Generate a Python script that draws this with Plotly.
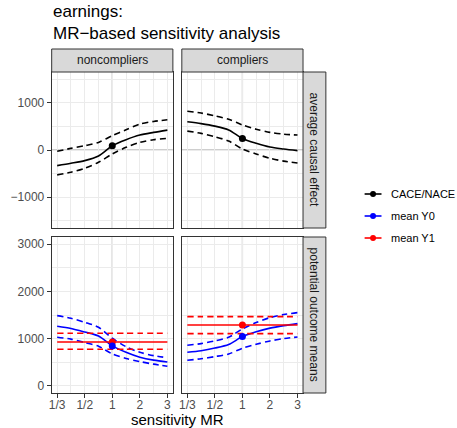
import plotly.graph_objects as go

W, H = 457, 428

# ---------------- data ----------------
mr = [1/3, 0.4, 1/2, 2/3, 1, 1.5, 2, 2.5, 3]
mr_ticks = [1/3, 1/2, 1, 2, 3]
mr_ticktext = ["1/3", "1/2", "1", "2", "3"]
mr_minor = [0.4, 2/3, 1.5, 2.5]

# average causal effect (top row)
nonc_cace = [-330, -281, -225, -126, 91, 218, 316, 372, 421]
nonc_cace_lo = [-526, -470, -386, -260, -84, 56, 161, 218, 246]
nonc_cace_hi = [-28, 35, 91, 161, 302, 428, 547, 604, 639]
comp_cace = [597, 558, 505, 425, 245, 142, 62, 20, -14]
comp_cace_lo = [400, 352, 281, 190, 21, -85, -175, -235, -274]
comp_cace_hi = [821, 782, 723, 650, 530, 440, 372, 335, 316]

# potential outcome means (bottom row)
nonc_y0 = [1262, 1215, 1140, 1056, 846, 712, 607, 545, 507]
nonc_y0_lo = [1029, 990, 916, 840, 677, 580, 515, 460, 416]
nonc_y0_hi = [1487, 1430, 1346, 1240, 1008, 830, 712, 640, 598]
nonc_y1 = [930, 930, 930, 930, 930, 930, 930, 930, 930]
nonc_y1_lo = [775, 775, 775, 775, 775, 775, 775, 775, 775]
nonc_y1_hi = [1113, 1113, 1113, 1113, 1113, 1113, 1113, 1113, 1113]

comp_y0 = [712, 745, 800, 875, 1043, 1145, 1222, 1275, 1317]
comp_y0_lo = [543, 575, 620, 675, 796, 880, 951, 1000, 1036]
comp_y0_hi = [860, 895, 951, 1030, 1205, 1340, 1445, 1510, 1550]
comp_y1 = [1290, 1290, 1290, 1290, 1290, 1290, 1290, 1290, 1290]
comp_y1_lo = [1106, 1106, 1106, 1106, 1106, 1106, 1106, 1106, 1106]
comp_y1_hi = [1466, 1466, 1466, 1466, 1466, 1466, 1466, 1466, 1466]

# estimates at MR = 1
pt_mr = [1]
nonc_cace_pt = [91]
comp_cace_pt = [245]
nonc_y0_pt = [846]
nonc_y1_pt = [930]
comp_y0_pt = [1043]
comp_y1_pt = [1290]

col_labels = ["noncompliers", "compliers"]
row_labels = ["average causal effect", "potential outcome means"]
legend_labels = ["CACE/NACE", "mean Y0", "mean Y1"]
legend_colors = ["#000000", "#0000FF", "#FF0000"]


# MR axis scale: symmetric ratio scale (1/3, 1/2, 1, 2, 3 equally spaced)
def mr_scale(v):
    return v - 1 if v >= 1 else 1 - 1 / v


def tx(vals):
    return [mr_scale(v) for v in vals]


# ---------------- layout geometry (pixels) ----------------
FONT = "Liberation Sans, Arial, Helvetica, sans-serif"
col_px = [(49, 171), (180, 302)]
row_px = [(72, 228), (237, 393)]
strip_top = (49, 72)
strip_right = (302, 325)


def px_x(p):
    return p / W


def px_y(p):
    return 1 - p / H


fig = go.Figure()

LW = 1.6
DASH = "6px,4px"


def add_line(xa, ya, y, color, dash=None):
    fig.add_trace(go.Scatter(x=tx(mr), y=y, mode="lines", xaxis=xa, yaxis=ya,
                             line=dict(color=color, width=LW, dash=dash, shape="spline", smoothing=0.8),
                             showlegend=False, hoverinfo="skip"))


def add_pt(xa, ya, y, color):
    fig.add_trace(go.Scatter(x=tx(pt_mr), y=y, mode="markers", xaxis=xa, yaxis=ya,
                             marker=dict(color=color, size=7),
                             showlegend=False, hoverinfo="skip"))


# top-left: noncompliers CACE
add_line("x", "y", nonc_cace_lo, "#000000", DASH)
add_line("x", "y", nonc_cace_hi, "#000000", DASH)
add_line("x", "y", nonc_cace, "#000000")
add_pt("x", "y", nonc_cace_pt, "#000000")
# top-right: compliers CACE
add_line("x2", "y2", comp_cace_lo, "#000000", DASH)
add_line("x2", "y2", comp_cace_hi, "#000000", DASH)
add_line("x2", "y2", comp_cace, "#000000")
add_pt("x2", "y2", comp_cace_pt, "#000000")
# bottom-left: noncompliers means
add_line("x3", "y3", nonc_y0_lo, "#0000FF", DASH)
add_line("x3", "y3", nonc_y0_hi, "#0000FF", DASH)
add_line("x3", "y3", nonc_y0, "#0000FF")
add_line("x3", "y3", nonc_y1_lo, "#FF0000", DASH)
add_line("x3", "y3", nonc_y1_hi, "#FF0000", DASH)
add_line("x3", "y3", nonc_y1, "#FF0000")
add_pt("x3", "y3", nonc_y1_pt, "#FF0000")
add_pt("x3", "y3", nonc_y0_pt, "#0000FF")
# bottom-right: compliers means
add_line("x4", "y4", comp_y0_lo, "#0000FF", DASH)
add_line("x4", "y4", comp_y0_hi, "#0000FF", DASH)
add_line("x4", "y4", comp_y0, "#0000FF")
add_line("x4", "y4", comp_y1_lo, "#FF0000", DASH)
add_line("x4", "y4", comp_y1_hi, "#FF0000", DASH)
add_line("x4", "y4", comp_y1, "#FF0000")
add_pt("x4", "y4", comp_y1_pt, "#FF0000")
add_pt("x4", "y4", comp_y0_pt, "#0000FF")

# ---------------- axes ----------------
t_ticks = tx(mr_ticks)
t_lo, t_hi = min(t_ticks), max(t_ticks)
pad = 0.05 * (t_hi - t_lo)
xr = [t_lo - pad, t_hi + pad]

GRID = "#EBEBEB"
BORDER = "#333333"
TICKFONT = dict(family=FONT, size=12, color="#4D4D4D")

layout_axes = {}
axes_names = [("xaxis", "yaxis", 0, 0), ("xaxis2", "yaxis2", 0, 1),
              ("xaxis3", "yaxis3", 1, 0), ("xaxis4", "yaxis4", 1, 1)]
y_ranges = [[-1650, 1650], [-150, 3150]]
y_ticks = [[-1000, 0, 1000], [0, 1000, 2000, 3000]]
y_minor = [[-1500, -500, 500, 1500], [500, 1500, 2500]]
for xa, ya, r, c in axes_names:
    yref_name = "y" + ("" if xa == "xaxis" else xa[-1])
    xref_name = "x" + ("" if xa == "xaxis" else xa[-1])
    layout_axes[xa] = dict(
        range=xr, domain=[px_x(col_px[c][0]), px_x(col_px[c][1])],
        anchor=yref_name, tickmode="array", tickvals=t_ticks, ticktext=mr_ticktext,
        showticklabels=(r == 1), ticks="outside" if r == 1 else "",
        ticklen=4, tickcolor=BORDER, tickwidth=1, tickfont=TICKFONT,
        ticklabelstandoff=-3,
        showgrid=True, gridcolor=GRID, gridwidth=1, zeroline=False,
        showline=True, mirror=True, linecolor=BORDER, linewidth=1,
        minor=dict(tickvals=tx(mr_minor), showgrid=True, gridcolor=GRID, gridwidth=0.5, ticks=""),
        fixedrange=True,
    )
    layout_axes[ya] = dict(
        range=y_ranges[r], domain=[px_y(row_px[r][1]), px_y(row_px[r][0])],
        anchor=xref_name, tickmode="array", tickvals=y_ticks[r],
        ticktext=[str(v).replace("-", "\u2212") for v in y_ticks[r]],
        showticklabels=(c == 0), ticks="outside" if c == 0 else "",
        ticklen=4, tickcolor=BORDER, tickwidth=1, tickfont=TICKFONT,
        showgrid=True, gridcolor=GRID, gridwidth=1, zeroline=False,
        showline=True, mirror=True, linecolor=BORDER, linewidth=1,
        minor=dict(tickvals=y_minor[r], showgrid=True, gridcolor=GRID, gridwidth=0.5, ticks=""),
        fixedrange=True,
    )

shapes = []
REF = "#BEBEBE"
# reference lines: MR = 1 in all panels, effect = 0 in top panels
for xa, ya, r, c in axes_names:
    xn = "x" + ("" if xa == "xaxis" else xa[-1])
    yn = "y" + ("" if ya == "yaxis" else ya[-1])
    shapes.append(dict(type="line", xref=xn, yref="paper", x0=mr_scale(1), x1=mr_scale(1),
                       y0=px_y(row_px[r][1]), y1=px_y(row_px[r][0]),
                       line=dict(color=REF, width=1.3), layer="below"))
    if r == 0:
        shapes.append(dict(type="line", xref="paper", yref=yn, x0=px_x(col_px[c][0]), x1=px_x(col_px[c][1]),
                           y0=0, y1=0, line=dict(color=REF, width=1.3), layer="below"))

annotations = []
STRIP_FILL = "#D9D9D9"
STRIPFONT = dict(family=FONT, size=12, color="#1A1A1A")
# top strips
for c in range(2):
    shapes.append(dict(type="rect", xref="paper", yref="paper",
                       x0=px_x(col_px[c][0]), x1=px_x(col_px[c][1]),
                       y0=px_y(strip_top[1]), y1=px_y(strip_top[0]),
                       fillcolor=STRIP_FILL, line=dict(color=BORDER, width=1), layer="above"))
    annotations.append(dict(text=col_labels[c], xref="paper", yref="paper",
                            x=px_x((col_px[c][0] + col_px[c][1]) / 2),
                            y=px_y((strip_top[0] + strip_top[1]) / 2),
                            showarrow=False, font=STRIPFONT, xanchor="center", yanchor="middle"))
# right strips
for r in range(2):
    shapes.append(dict(type="rect", xref="paper", yref="paper",
                       x0=px_x(strip_right[0]), x1=px_x(strip_right[1]),
                       y0=px_y(row_px[r][1]), y1=px_y(row_px[r][0]),
                       fillcolor=STRIP_FILL, line=dict(color=BORDER, width=1), layer="above"))
    annotations.append(dict(text=row_labels[r], xref="paper", yref="paper",
                            x=px_x((strip_right[0] + strip_right[1]) / 2),
                            y=px_y((row_px[r][0] + row_px[r][1]) / 2),
                            showarrow=False, font=STRIPFONT, textangle=90,
                            xanchor="center", yanchor="middle"))

# legend (drawn manually to match key geometry)
leg_y = [194, 216, 238]
for i, lab in enumerate(legend_labels):
    shapes.append(dict(type="line", xref="paper", yref="paper",
                       x0=px_x(364), x1=px_x(381), y0=px_y(leg_y[i]), y1=px_y(leg_y[i]),
                       line=dict(color=legend_colors[i], width=LW), layer="above"))
    rad = 3
    shapes.append(dict(type="circle", xref="paper", yref="paper",
                       x0=px_x(372.5 - rad), x1=px_x(372.5 + rad),
                       y0=px_y(leg_y[i] + rad), y1=px_y(leg_y[i] - rad),
                       fillcolor=legend_colors[i], line=dict(color=legend_colors[i], width=0),
                       layer="above"))
    annotations.append(dict(text=lab, xref="paper", yref="paper",
                            x=px_x(389), y=px_y(leg_y[i]), xanchor="left", yanchor="middle",
                            showarrow=False, font=dict(family=FONT, size=11, color="#000000")))

# title
annotations.append(dict(text="earnings:<br>MR\u2212based sensitivity analysis",
                        xref="paper", yref="paper", x=px_x(48), y=px_y(0),
                        xanchor="left", yanchor="top", align="left", showarrow=False,
                        font=dict(family=FONT, size=17, color="#000000")))
# x-axis title
annotations.append(dict(text="sensitivity MR", xref="paper", yref="paper",
                        x=px_x((col_px[0][0] + col_px[1][1]) / 2), y=px_y(419.5),
                        xanchor="center", yanchor="middle", showarrow=False,
                        font=dict(family=FONT, size=15, color="#000000")))

fig.update_layout(
    width=W, height=H, margin=dict(l=0, r=0, t=0, b=0),
    paper_bgcolor="white", plot_bgcolor="white",
    showlegend=False, shapes=shapes, annotations=annotations,
    font=dict(family=FONT),
    **layout_axes,
)

fig.write_html("out.html", config={"displayModeBar": False})
